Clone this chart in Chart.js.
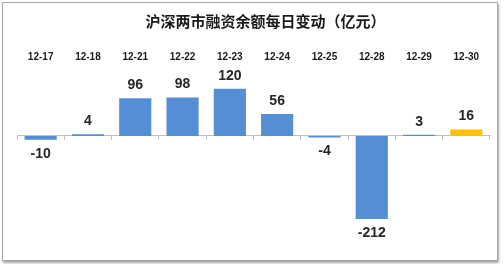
<!DOCTYPE html>
<html>
<head>
<meta charset="utf-8">
<script src="https://cdn.jsdelivr.net/npm/chart.js@4"></script>
<style>
  html, body { margin: 0; padding: 0; background: #fff; }
  #wrap { position: relative; width: 504px; height: 264px; }
  #frame {
    position: absolute; left: 2px; top: 2px; width: 494px; height: 257px;
    border: 1px solid #a6a6a6; box-shadow: 1px 2px 2px rgba(0,0,0,0.35);
  }
  canvas { position: absolute; left: 0; top: 0; }
</style>
</head>
<body>
<div id="wrap">
  <div id="frame"></div>
  <canvas id="chart" width="504" height="264"></canvas>
</div>
<script>
var dates = ["12-17", "12-18", "12-21", "12-22", "12-23", "12-24", "12-25", "12-28", "12-29", "12-30"];
var changes = [-10, 4, 96, 98, 120, 56, -4, -212, 3, 16];
var barColors = ["#558ed5", "#558ed5", "#558ed5", "#558ed5", "#558ed5", "#558ed5", "#558ed5", "#558ed5", "#558ed5", "#ffc000"];

// value labels above positive bars, below negative ones
var valueLabels = {
  id: "valueLabels",
  afterLayout: function (chart) {
    // the original title sits a bit right of centre
    chart.titleBlock.left += 24;
  },
  afterDatasetsDraw: function (chart) {
    var ctx = chart.ctx;
    var meta = chart.getDatasetMeta(0);
    ctx.save();
    ctx.font = "bold 14px 'Liberation Sans', Arial, sans-serif";
    ctx.fillStyle = "#262626";
    ctx.textAlign = "center";
    meta.data.forEach(function (bar, i) {
      var v = changes[i];
      if (v >= 0) {
        ctx.textBaseline = "bottom";
        ctx.fillText(String(v), bar.x, bar.y - 6);
      } else {
        ctx.textBaseline = "top";
        ctx.fillText(String(v), bar.x, bar.y + 7);
      }
    });
    ctx.restore();
  }
};

new Chart(document.getElementById("chart").getContext("2d"), {
  type: "bar",
  data: {
    labels: dates,
    datasets: [{
      data: changes,
      backgroundColor: barColors,
      borderWidth: 0,
      barPercentage: 0.68,
      categoryPercentage: 1
    }]
  },
  options: {
    responsive: false,
    animation: false,
    layout: { padding: { left: 17, right: 14, top: 0, bottom: 30 } },
    plugins: {
      legend: { display: false },
      tooltip: { enabled: false },
      title: {
        display: true,
        text: "沪深两市融资余额每日变动（亿元）",
        color: "#1a1a1a",
        font: { family: "'Noto Sans CJK SC', sans-serif", size: 15, weight: "bold" },
        padding: { top: 12, bottom: 15 }
      }
    },
    scales: {
      x: {
        position: { y: 0 },
        offset: true,
        grid: { display: true, drawOnChartArea: false, drawTicks: true, tickLength: 4, color: "#bfbfbf", offset: true },
        border: { display: true, color: "#bfbfbf" },
        ticks: { display: false }
      },
      x2: {
        type: "category",
        position: "top",
        offset: true,
        grid: { display: false },
        border: { display: false },
        ticks: {
          color: "#1a1a1a",
          padding: 6,
          maxRotation: 0,
          font: { family: "'Liberation Sans', Arial, sans-serif", size: 10, weight: "bold" }
        }
      },
      y: {
        display: false,
        min: -250,
        max: 150
      }
    }
  },
  plugins: [valueLabels]
});
</script>
</body>
</html>
